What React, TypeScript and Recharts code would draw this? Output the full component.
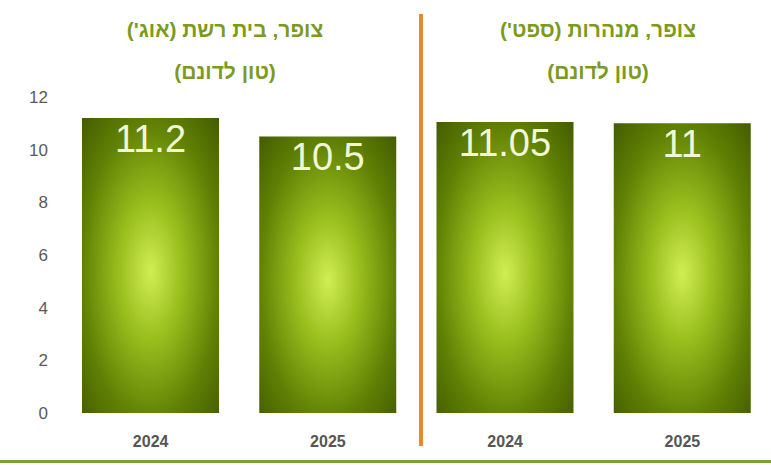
import { BarChart, Bar, XAxis, YAxis, LabelList } from "recharts";

const ids = ["a2024", "a2025", "b2024", "b2025"];
const years = ["2024", "2025", "2024", "2025"];
const yields = [11.2, 10.5, 11.05, 11];
const yTicks = [0, 2, 4, 6, 8, 10, 12];
const titleLeft = ["צופר, בית רשת (אוג')", "(טון לדונם)"];
const titleRight = ["צופר, מנהרות (ספט')", "(טון לדונם)"];

const data = ids.map((id, i) => ({ id, year: years[i], value: yields[i] }));

const titleStyle: React.CSSProperties = {
  position: "absolute",
  width: 300,
  textAlign: "center",
  direction: "rtl",
  fontFamily: "'Liberation Sans', Arial, sans-serif",
  fontWeight: "bold",
  fontSize: 21,
  color: "#7c9a1c",
  lineHeight: "42px",
};

export default function App() {
  return (
    <div
      style={{
        position: "fixed",
        left: 0,
        top: 0,
        width: 771,
        height: 465,
        background: "#ffffff",
        overflow: "hidden",
      }}
    >
      <BarChart
        width={771}
        height={465}
        data={data}
        margin={{ top: 97, right: 0, bottom: 20, left: 10 }}
        barSize={137}
      >
        <defs>
          <radialGradient id="barGlow" cx="0.5" cy="0.52" r="0.72">
            <stop offset="0%" stopColor="#d0ee55" />
            <stop offset="30%" stopColor="#9cc21f" />
            <stop offset="70%" stopColor="#5f8004" />
            <stop offset="100%" stopColor="#445c00" />
          </radialGradient>
        </defs>
        <XAxis
          dataKey="id"
          height={32}
          axisLine={false}
          tickLine={false}
          tickFormatter={(v: string) => v.slice(1)}
          tick={{ fill: "#555555", fontSize: 16, fontWeight: "bold", fontFamily: "'Liberation Sans', Arial, sans-serif" }}
          tickMargin={17}
        />
        <YAxis
          width={52}
          domain={[0, 12]}
          ticks={yTicks}
          axisLine={false}
          tickLine={false}
          tick={{ fill: "#5a5a5a", fontSize: 17, fontFamily: "'Liberation Sans', Arial, sans-serif" }}
          tickMargin={8}
        />
        <Bar dataKey="value" fill="url(#barGlow)" isAnimationActive={false}>
          <LabelList
            dataKey="value"
            position="insideTop"
            offset={7}
            fill="#f3f7d6"
            fontSize={38}
            fontFamily="'Liberation Sans', Arial, sans-serif"
          />
        </Bar>
      </BarChart>
      <div style={{ ...titleStyle, left: 75, top: 9 }}>
        {titleLeft.map((t) => (
          <div key={t}>{t}</div>
        ))}
      </div>
      <div style={{ ...titleStyle, left: 448, top: 9 }}>
        {titleRight.map((t) => (
          <div key={t}>{t}</div>
        ))}
      </div>
      <div
        style={{
          position: "absolute",
          left: 419,
          top: 14,
          width: 4,
          height: 432,
          background: "#e8892c",
        }}
      />
      <div
        style={{
          position: "absolute",
          left: 0,
          top: 460,
          width: 771,
          height: 3,
          background: "#76a33a",
        }}
      />
    </div>
  );
}
